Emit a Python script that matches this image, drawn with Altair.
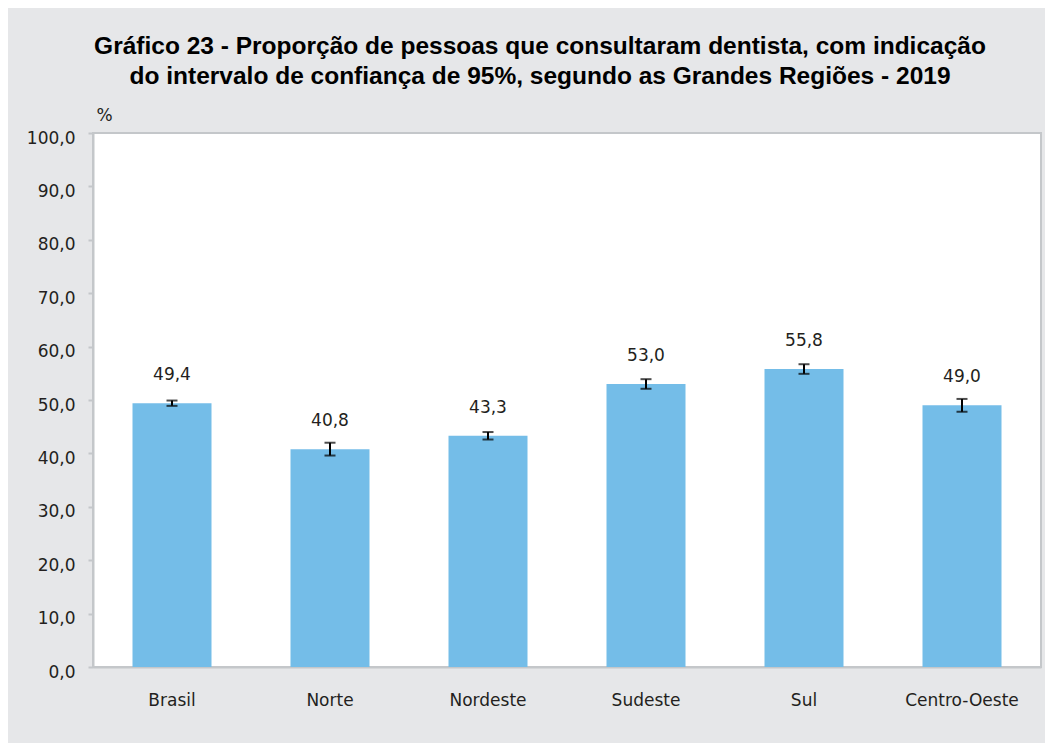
import altair as alt
import pandas as pd

regioes = ["Brasil", "Norte", "Nordeste", "Sudeste", "Sul", "Centro-Oeste"]
valores = [49.4, 40.8, 43.3, 53.0, 55.8, 49.0]
ic_inf = [48.9, 39.6, 42.6, 52.1, 54.9, 47.8]
ic_sup = [49.9, 42.0, 44.0, 53.9, 56.7, 50.2]
y_ticks = [0, 10, 20, 30, 40, 50, 60, 70, 80, 90, 100]

df = pd.DataFrame({
    "regiao": regioes,
    "valor": valores,
    "lo": ic_inf,
    "hi": ic_sup,
})
df["rotulo"] = df["valor"].map(lambda v: f"{v:.1f}".replace(".", ","))

FONT = "DejaVu Sans"
TFONT = "Liberation Sans"
TXT = "#231f20"
AXC = "#c4c7ca"

x_enc = alt.X(
    "regiao:N",
    sort=regioes,
    scale=alt.Scale(paddingInner=0.5, paddingOuter=0.25),
    axis=alt.Axis(
        title=None, labelAngle=0, ticks=False, labelPadding=25,
        labelFontSize=17, labelColor=TXT, labelFont=FONT,
        domainColor=AXC, domainWidth=2,
    ),
)
y_scale = alt.Scale(domain=[0, 100], nice=False)

bars = alt.Chart(df).mark_bar(color="#74bde8").encode(
    x=x_enc,
    y=alt.Y(
        "valor:Q", scale=y_scale,
        axis=alt.Axis(
            values=y_ticks, grid=False, title="%", titleAngle=0,
            titleX=11, titleY=-18, titleAlign="center", titleBaseline="middle",
            titleFontSize=17, titleFontWeight="normal", titleColor=TXT, titleFont=FONT,
            labelExpr="replace(format(datum.value, '.1f'), '.', ',')",
            labelFontSize=17, labelColor=TXT, labelFont=FONT, labelPadding=13,
            labelOffset=5,
            tickSize=5, tickColor=AXC, tickWidth=2,
            domainColor=AXC, domainWidth=2,
        ),
    ),
)

rule = alt.Chart(df).mark_rule(color="black", strokeWidth=2).encode(
    x=alt.X("regiao:N", sort=regioes),
    y=alt.Y("lo:Q", scale=y_scale),
    y2="hi:Q",
)
cap_lo = alt.Chart(df).mark_tick(color="black", size=11, thickness=2, orient="horizontal").encode(
    x=alt.X("regiao:N", sort=regioes),
    y=alt.Y("lo:Q", scale=y_scale),
)
cap_hi = alt.Chart(df).mark_tick(color="black", size=11, thickness=2, orient="horizontal").encode(
    x=alt.X("regiao:N", sort=regioes),
    y=alt.Y("hi:Q", scale=y_scale),
)
labels = alt.Chart(df).mark_text(
    dy=-28, baseline="middle", fontSize=17, color=TXT, font=FONT
).encode(
    x=alt.X("regiao:N", sort=regioes),
    y=alt.Y("valor:Q", scale=y_scale),
    text="rotulo:N",
)

chart = alt.layer(bars, rule, cap_lo, cap_hi, labels).properties(
    width=948,
    height=534,
    background="#e6e7e9",
    autosize=alt.AutoSizeParams(type="none"),
    padding={"left": 85, "top": 125, "right": 4, "bottom": 76},
    title=alt.TitleParams(
        text=[
            "Gráfico 23 - Proporção de pessoas que consultaram dentista, com indicação",
            "do intervalo de confiança de 95%, segundo as Grandes Regiões - 2019",
        ],
        fontSize=24.5, fontWeight="bold", font=TFONT, color="black",
        anchor="middle", dx=-27, offset=17, lineHeight=30,
    ),
).configure_view(
    fill="white", stroke=AXC, strokeWidth=2,
)

chart.save("out.html", embed_options={"renderer": "svg", "actions": False})
